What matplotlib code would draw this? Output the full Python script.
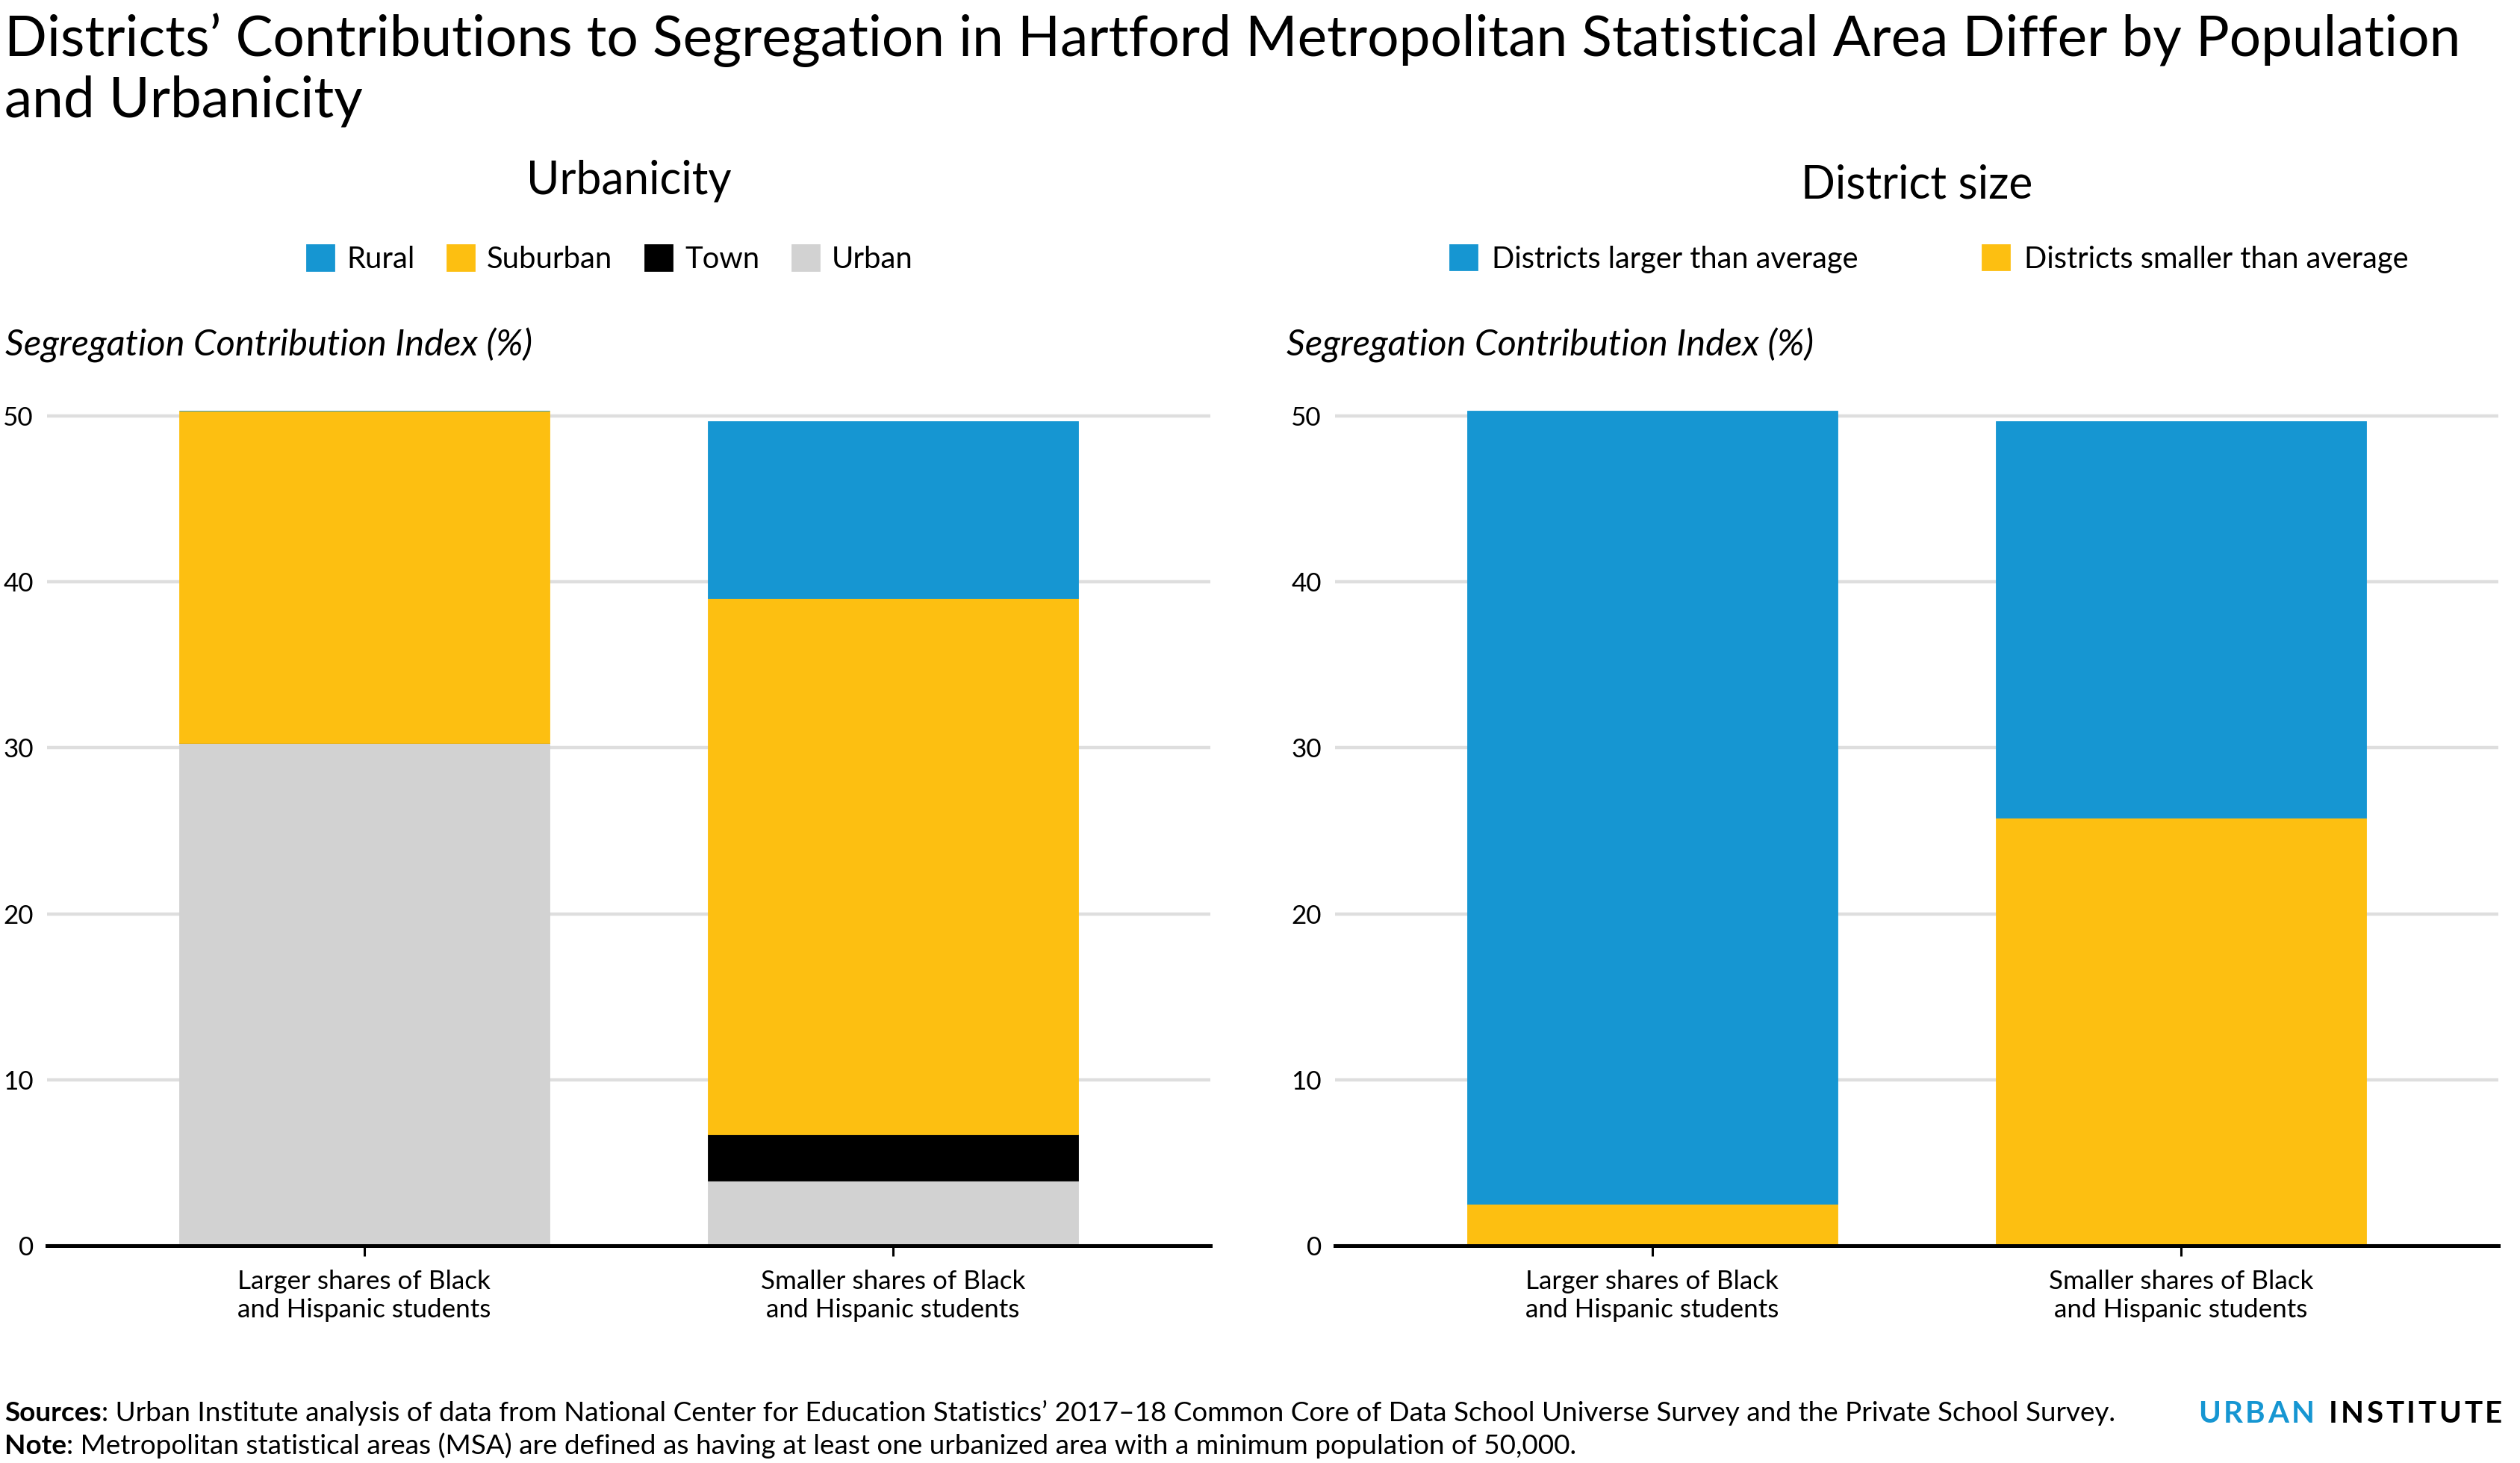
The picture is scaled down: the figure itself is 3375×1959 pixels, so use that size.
import matplotlib
matplotlib.use('Agg')
import matplotlib.pyplot as plt
from matplotlib.patches import Patch

plt.rcParams['font.family'] = ['Lato', 'DejaVu Sans']

# data
groups = ['Larger shares of Black\nand Hispanic students', 'Smaller shares of Black\nand Hispanic students']
urban = [30.3, 3.9]
town = [0.0, 2.8]
suburban = [20.0, 32.3]
rural = [0.0, 10.7]

size_smaller = [2.5, 25.8]
size_larger = [47.8, 23.9]

yticks = [0, 10, 20, 30, 40, 50]

BLUE = '#1696d2'
YELLOW = '#fdbf11'
BLACK = '#000000'
GRAY = '#d2d2d2'
GRID = '#dedede'

W, H = 3375, 1959
DPI = 200
fig = plt.figure(figsize=(W / DPI, H / DPI), dpi=DPI)


def fx(px):
    return px / W


def fy(py):
    return 1 - py / H


def style_axes(ax):
    ax.set_xlim(-0.6, 1.6)
    ax.set_ylim(0, 52)
    ax.set_yticks(yticks)
    ax.set_xticks(range(len(groups)))
    ax.set_xticklabels(groups, fontsize=12.6, linespacing=1.22)
    for s in ['top', 'right', 'left']:
        ax.spines[s].set_visible(False)
    ax.spines['bottom'].set_linewidth(1.8)
    ax.spines['bottom'].set_color('black')
    ax.spines['bottom'].set_zorder(5)
    ax.tick_params(axis='y', length=0, labelsize=12.6, pad=6.5)
    ax.tick_params(axis='x', length=5, width=1.1, pad=6.5)
    ax.yaxis.grid(True, color=GRID, linewidth=1.6)
    ax.set_axisbelow(True)


bw = 0.7
x = list(range(len(groups)))
AX_BOT, AX_TOP = 1668, 1668 - 52 * 22.22

# left panel: urbanicity
ax1 = fig.add_axes([fx(63), fy(AX_BOT), fx(1558), fy(AX_TOP) - fy(AX_BOT)])
b = [0, 0]
for vals, col in [(urban, GRAY), (town, BLACK), (suburban, YELLOW), (rural, BLUE)]:
    ax1.bar(x, vals, bw, bottom=b, color=col, edgecolor=col, linewidth=0.3, zorder=2)
    b = [p + q for p, q in zip(b, vals)]
style_axes(ax1)

# right panel: district size
ax2 = fig.add_axes([fx(1788), fy(AX_BOT), fx(1558), fy(AX_TOP) - fy(AX_BOT)])
ax2.bar(x, size_smaller, bw, color=YELLOW, edgecolor=YELLOW, linewidth=0.3, zorder=2)
ax2.bar(x, size_larger, bw, bottom=size_smaller, color=BLUE, edgecolor=BLUE, linewidth=0.3, zorder=2)
style_axes(ax2)

# titles
fig.text(fx(6), fy(157), "Districts\u2019 Contributions to Segregation in Hartford Metropolitan Statistical Area Differ by Population\nand Urbanicity",
         fontsize=26.9, ha='left', va='baseline', linespacing=1.2)
fig.text(fx(842), fy(260), 'Urbanicity', fontsize=21.8, ha='center', va='baseline')
fig.text(fx(2567), fy(266), 'District size', fontsize=21.8, ha='center', va='baseline')

fig.text(fx(7), fy(477), 'Segregation Contribution Index (%)', fontsize=17.6, style='italic', va='baseline')
fig.text(fx(1723), fy(477), 'Segregation Contribution Index (%)', fontsize=17.6, style='italic', va='baseline')

# legends
h1 = [Patch(color=c, label=l) for c, l in [(BLUE, 'Rural'), (YELLOW, 'Suburban'), (BLACK, 'Town'), (GRAY, 'Urban')]]
fig.legend(handles=h1, loc='center', bbox_to_anchor=(fx(817), fy(347)), ncol=4, frameon=False,
           fontsize=14.4, handlelength=0.9, handleheight=0.9, handletextpad=0.42, columnspacing=1.1)
h2 = [Patch(color=BLUE, label='Districts larger than average'), Patch(color=YELLOW, label='Districts smaller than average')]
fig.legend(handles=h2, loc='center', bbox_to_anchor=(fx(2584), fy(347)), ncol=2, frameon=False,
           fontsize=14.3, handlelength=0.9, handleheight=0.9, handletextpad=0.5, columnspacing=4.2)

# footer with bold lead-ins
r = fig.canvas.get_renderer()


def lead_text(px, py, bold, rest):
    t = fig.text(fx(px), fy(py), bold, fontsize=13.3, fontweight='bold', va='baseline')
    bb = t.get_window_extent(renderer=r)
    fig.text(bb.x1 / W, fy(py), rest, fontsize=13.3, va='baseline')


lead_text(6, 1903, 'Sources', ': Urban Institute analysis of data from National Center for Education Statistics\u2019 2017\u201318 Common Core of Data School Universe Survey and the Private School Survey.')
lead_text(6, 1947, 'Note', ': Metropolitan statistical areas (MSA) are defined as having at least one urbanized area with a minimum population of 50,000.')

# logo with letter spacing
logo = 'URBAN INSTITUTE'
x0, x1 = 2944, 3351
chars = []
widths = []
for ch in logo:
    t = fig.text(0, 0, ch, fontsize=14.5, fontweight='bold', va='baseline', color=BLUE)
    chars.append(t)
    widths.append(t.get_window_extent(renderer=r).width if ch != ' ' else 12)
track = (x1 - x0 - sum(widths)) / (len(logo) - 1)
cx = x0
for i, (t, w) in enumerate(zip(chars, widths)):
    t.set_position((fx(cx), fy(1905)))
    t.set_color(BLUE if i < 5 else '#000000')
    cx += w + track

fig.savefig('out.png', dpi=DPI)
